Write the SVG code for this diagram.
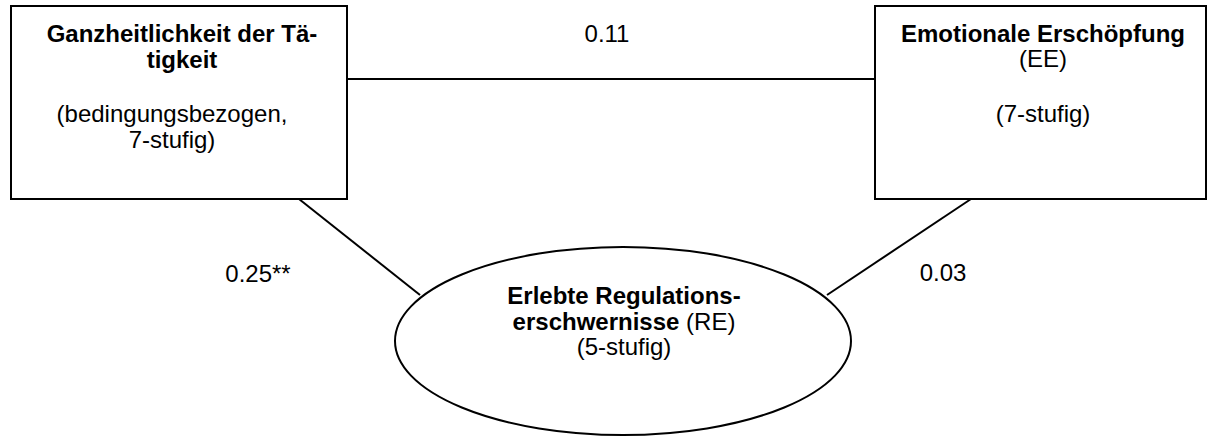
<svg xmlns="http://www.w3.org/2000/svg" width="1208" height="436" viewBox="0 0 1208 436">
  <style>
    .shape { fill: #ffffff; stroke: #000000; stroke-width: 2; }
    .edge { stroke: #000000; stroke-width: 2; fill: none; }
    text { font-family: "Liberation Sans", Arial, sans-serif; font-size: 24px; fill: #000000; text-anchor: middle; }
    .b { font-weight: bold; }
  </style>
  <rect width="1208" height="436" fill="#ffffff"/>

  <!-- connectors -->
  <g id="connectors">
    <line class="edge" x1="347" y1="79" x2="875" y2="79"/>
    <line class="edge" x1="299" y1="199" x2="420" y2="295"/>
    <line class="edge" x1="971" y1="199" x2="827" y2="295"/>
    <text x="607" y="42">0.11</text>
    <text x="258" y="282">0.25**</text>
    <text x="943" y="281">0.03</text>
  </g>

  <!-- holistic task box -->
  <g id="ganzheitlichkeit">
    <rect class="shape" x="11" y="6" width="336" height="193"/>
    <text class="b" x="182" y="42">Ganzheitlichkeit der Tä-</text>
    <text class="b" x="182" y="68">tigkeit</text>
    <text x="172" y="122">(bedingungsbezogen,</text>
    <text x="172" y="148">7-stufig)</text>
  </g>

  <!-- emotional exhaustion box -->
  <g id="erschoepfung">
    <rect class="shape" x="875" y="6" width="331" height="193"/>
    <text class="b" x="1043" y="42">Emotionale Erschöpfung</text>
    <text x="1043" y="67">(EE)</text>
    <text x="1043" y="122">(7-stufig)</text>
  </g>

  <!-- regulation obstacles ellipse -->
  <g id="regulation">
    <ellipse class="shape" cx="623" cy="341" rx="228" ry="94"/>
    <text class="b" x="624" y="304">Erlebte Regulations-</text>
    <text x="624" y="330"><tspan class="b">erschwernisse</tspan> (RE)</text>
    <text x="624" y="355">(5-stufig)</text>
  </g>
</svg>
